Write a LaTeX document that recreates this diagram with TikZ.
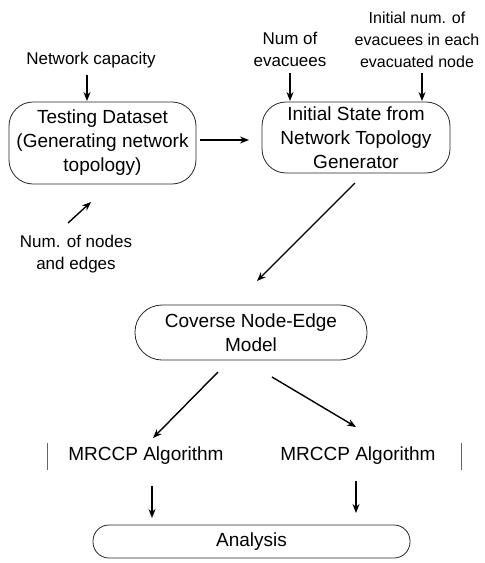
\documentclass[tikz,border=0pt]{standalone}
\usepackage{fontspec}
\setmainfont{Liberation Sans}
\usetikzlibrary{arrows.meta,calc}
\begin{document}
\begin{tikzpicture}[x=1pt,y=-1pt,
  box/.style={draw=black!85,line width=0.8pt,rounded corners=24pt,align=center,inner sep=0pt,font=\fontsize{19}{24}\selectfont},
  lbl/.style={align=center,inner sep=0pt,font=\fontsize{17}{22}\selectfont},
  arr/.style={-{Stealth[length=9pt,width=7pt]},line width=1.4pt}]
\useasboundingbox (0,0) rectangle (485,563);
% nodes
\node[box,minimum width=187pt,minimum height=82pt] (b1) at (102.5,143) {Testing Dataset\\(Generating network\\topology)};
\node[box,minimum width=188pt,minimum height=71pt] (b2) at (356,137.5) {Initial State from\\Network Topology\\Generator};
\node[box,minimum width=232pt,minimum height=55pt,rounded corners=27pt] (b3) at (251,332.5) {Coverse Node-Edge\\Model};
\node[box,minimum width=317pt,minimum height=33pt,rounded corners=16pt] (ana) at (251.5,541.5) {Analysis};
\node[lbl] (cap) at (91,60) {Network capacity};
\node[lbl] (nev) at (290,49) {Num of\\evacuees};
\node[lbl,font=\fontsize{16}{22}\selectfont] (inum) at (417,40) {Initial num. of\\evacuees in each\\evacuated node};
\node[lbl] (nne) at (76,254) {Num. of nodes\\and edges};
\node[lbl,font=\fontsize{19}{22}\selectfont] (m1) at (146,456) {MRCCP Algorithm};
\node[lbl,font=\fontsize{19}{22}\selectfont] (m2) at (358,456) {MRCCP Algorithm};
% side bars
\draw[black!60,line width=0.8pt] (47,443) -- (47,470);
\draw[black!60,line width=0.8pt] (461,443) -- (461,470);
% coordinates for connector ends
\coordinate (capE) at (87,101);
\coordinate (nevE) at (290,101);
\coordinate (inumE) at (422,101);
\coordinate (nneS) at (68,223);
\coordinate (nneE) at (91,202);
\coordinate (b1S) at (200,140);
\coordinate (b2W) at (249,140);
\coordinate (b2S) at (355,183);
\coordinate (b3N) at (257,281);
\coordinate (b3L) at (218,372);
\coordinate (m1N) at (153,438);
\coordinate (b3R) at (272,377);
\coordinate (m2N) at (356,427);
\coordinate (m1S) at (152,486);
\coordinate (anaL) at (152,518);
\coordinate (m2S) at (356,481);
\coordinate (anaR) at (356,513);
% connectors
\draw[arr] (cap.south -| capE) ++(0,7) -- (capE);
\draw[arr] (nev.south -| nevE) ++(0,7) -- (nevE);
\draw[arr] (inum.south -| inumE) ++(0,5) -- (inumE);
\draw[arr] (nneS) -- (nneE);
\draw[arr] (b1S) -- (b2W);
\draw[arr] (b2S) -- (b3N);
\draw[arr] (b3L) -- (m1N);
\draw[arr] (b3R) -- (m2N);
\draw[arr] (m1S) -- (anaL);
\draw[arr] (m2S) -- (anaR);
\end{tikzpicture}
\end{document}
